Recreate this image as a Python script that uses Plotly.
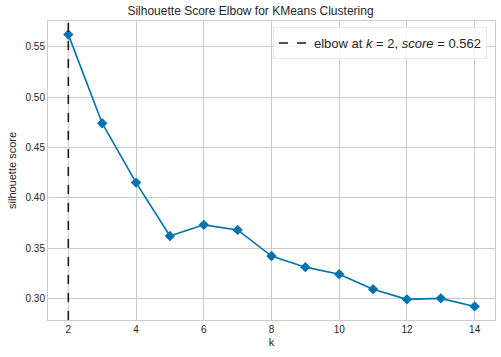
import plotly.graph_objects as go

k_values = [2, 3, 4, 5, 6, 7, 8, 9, 10, 11, 12, 13, 14]
scores = [0.562, 0.474, 0.415, 0.362, 0.373, 0.368, 0.342, 0.331, 0.324, 0.309, 0.299, 0.300, 0.292]
elbow_k = 2
elbow_score = 0.562
x_ticks = [2, 4, 6, 8, 10, 12, 14]
y_ticks = [0.30, 0.35, 0.40, 0.45, 0.50, 0.55]

FONT = "Liberation Sans, Arial, sans-serif"
BLUE = "#0072b2"
GRID = "#cccccc"

xpad = (max(k_values) - min(k_values)) * 0.05
ypad = (max(scores) - min(scores)) * 0.05

fig = go.Figure()
fig.add_trace(go.Scatter(
    x=k_values, y=scores, mode="lines+markers",
    line=dict(color=BLUE, width=1.6),
    marker=dict(symbol="diamond", size=8, color=BLUE),
    showlegend=False,
))
fig.add_shape(
    type="line", xref="x", yref="paper",
    x0=elbow_k, x1=elbow_k, y0=0, y1=1,
    line=dict(color="#1a1a1a", width=1.6, dash="dash"),
    showlegend=True,
    name=f"elbow at <i>k</i> = {elbow_k}, <i>score</i> = {elbow_score:.3f}",
)

fig.update_layout(
    width=501, height=357,
    margin=dict(l=48, r=6, t=21, b=37),
    paper_bgcolor="white", plot_bgcolor="white",
    font=dict(family=FONT, size=10, color="#262626"),
    title=dict(text="Silhouette Score Elbow for KMeans Clustering",
               x=0.5, xanchor="center", y=0.969, yref="container", yanchor="middle",
               font=dict(size=12, color="#262626")),
    legend=dict(x=0.982, y=0.98, xanchor="right", yanchor="top",
                bgcolor="rgba(255,255,255,0.8)", bordercolor="#e6e6e6", borderwidth=1,
                font=dict(size=13, color="#262626"), itemwidth=30),
    xaxis=dict(range=[min(k_values) - xpad, max(k_values) + xpad],
               tickvals=x_ticks, ticktext=[str(v) for v in x_ticks],
               showgrid=True, gridcolor=GRID, gridwidth=1, automargin=False,
               zeroline=False, showline=True, linecolor=GRID, mirror=True,
               ticks="", title=dict(text="k", standoff=4, font=dict(size=11))),
    yaxis=dict(range=[min(scores) - ypad, max(scores) + ypad],
               tickvals=y_ticks, ticktext=[f"{v:.2f}" for v in y_ticks],
               showgrid=True, gridcolor=GRID, gridwidth=1, automargin=False,
               zeroline=False, showline=True, linecolor=GRID, mirror=True,
               ticks="", title=dict(text="silhouette score", standoff=6, font=dict(size=11))),
)

fig.write_html("out.html", config={"displayModeBar": False},
               post_script="document.body.style.margin='0';")
